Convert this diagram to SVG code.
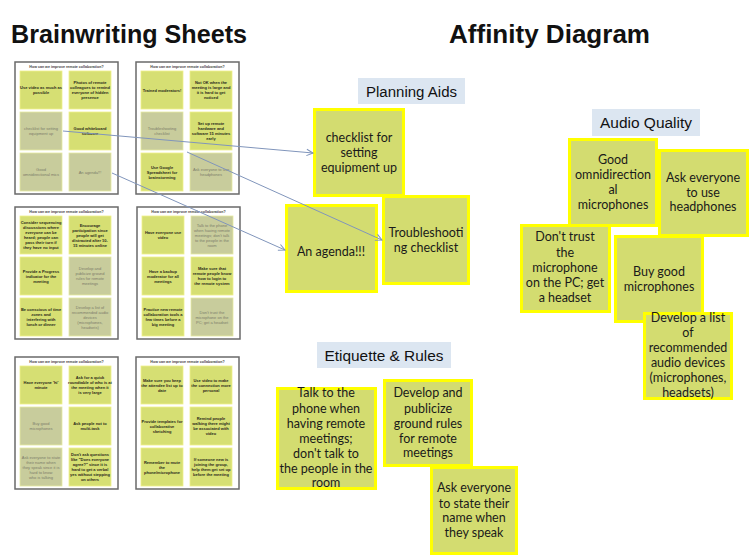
<svg xmlns="http://www.w3.org/2000/svg" width="750" height="560" viewBox="0 0 750 560">
<style>
.title{font-family:"Liberation Sans",Arial,sans-serif;font-weight:bold;font-size:26px;fill:#111}
.sheet{fill:#fff;stroke:#6a6a6a;stroke-width:1.5}
.sy{fill:#d6df73;stroke:#f0f08a;stroke-width:0.8}
.sg{fill:#c8cc9c;stroke:#e6eaa0;stroke-width:0.8}
.sh{font-family:"Liberation Sans",Arial,sans-serif;font-size:3.6px;font-weight:bold;fill:#444;text-anchor:middle}
.ty{font-family:"Liberation Sans",Arial,sans-serif;font-size:4px;font-weight:bold;fill:#2a2a1a;text-anchor:middle}
.tg{font-family:"Liberation Sans",Arial,sans-serif;font-size:4px;fill:#7c7c6a;text-anchor:middle}
.note{fill:#d3dc70;stroke:#ffff00;stroke-width:3}
.nt{font-family:Lato,"Open Sans",sans-serif;font-size:12.5px;fill:#1a1a1a;text-anchor:middle}
.lbl{fill:#dce6f1}
.lt{font-family:"Liberation Sans",Arial,sans-serif;font-size:15.5px;fill:#111;text-anchor:middle}
.conn{fill:none;stroke:#8095bb;stroke-width:1}
</style>
<defs>
<marker id="arr" viewBox="0 0 10 10" refX="9" refY="5" markerWidth="8" markerHeight="8" orient="auto" markerUnits="userSpaceOnUse">
<path d="M1,1 L9,5 L1,9" fill="none" stroke="#8095bb" stroke-width="1.3"/>
</marker>
</defs>
<rect width="750" height="560" fill="#fff"/>

<text class="title" x="11" y="43" textLength="236" lengthAdjust="spacingAndGlyphs">Brainwriting Sheets</text>
<text class="title" x="449" y="43" textLength="201" lengthAdjust="spacingAndGlyphs">Affinity Diagram</text>

<!-- Sheet 1 -->
<g id="sheet1" transform="translate(15,62)">
<rect class="sheet" x="0" y="0" width="103" height="132"/>
<text class="sh" x="51.5" y="6">How can we improve remote collaboration?</text>
<rect class="sy" x="5" y="9" width="42" height="38"/>
<rect class="sy" x="54" y="9" width="42" height="38"/>
<rect class="sg" x="5" y="50" width="42" height="38"/>
<rect class="sy" x="54" y="50" width="42" height="38"/>
<rect class="sg" x="5" y="91" width="42" height="38"/>
<rect class="sg" x="54" y="91" width="42" height="38"/>
<text class="ty" y="27"><tspan x="26">Use video as much as</tspan><tspan x="26" dy="5">possible</tspan></text>
<text class="ty" y="22"><tspan x="75">Photos of remote</tspan><tspan x="75" dy="5">colleagues to remind</tspan><tspan x="75" dy="5">everyone of hidden</tspan><tspan x="75" dy="5">presence</tspan></text>
<text class="tg" y="68"><tspan x="26">checklist for setting</tspan><tspan x="26" dy="5">equipment up</tspan></text>
<text class="ty" y="68"><tspan x="75">Good whiteboard</tspan><tspan x="75" dy="5">software</tspan></text>
<text class="tg" y="109"><tspan x="26">Good</tspan><tspan x="26" dy="5">omnidirectional mics</tspan></text>
<text class="tg" y="111.5"><tspan x="75">An agenda!!!</tspan></text>
</g>

<!-- Sheet 2 -->
<g id="sheet2" transform="translate(136,62)">
<rect class="sheet" x="0" y="0" width="103" height="132"/>
<text class="sh" x="51.5" y="6">How can we improve remote collaboration?</text>
<rect class="sy" x="5" y="9" width="42" height="38"/>
<rect class="sy" x="54" y="9" width="42" height="38"/>
<rect class="sg" x="5" y="50" width="42" height="38"/>
<rect class="sy" x="54" y="50" width="42" height="38"/>
<rect class="sy" x="5" y="91" width="42" height="38"/>
<rect class="sg" x="54" y="91" width="42" height="38"/>
<text class="ty" y="29.5"><tspan x="26">Trained moderators!</tspan></text>
<text class="ty" y="22"><tspan x="75">Not OK when the</tspan><tspan x="75" dy="5">meeting is large and</tspan><tspan x="75" dy="5">it is hard to get</tspan><tspan x="75" dy="5">noticed</tspan></text>
<text class="tg" y="68"><tspan x="26">Troubleshooting</tspan><tspan x="26" dy="5">checklist</tspan></text>
<text class="ty" y="63"><tspan x="75">Set up remote</tspan><tspan x="75" dy="5">hardware and</tspan><tspan x="75" dy="5">software 15 minutes</tspan><tspan x="75" dy="5">early</tspan></text>
<text class="ty" y="106.5"><tspan x="26">Use Google</tspan><tspan x="26" dy="5">Spreadsheet for</tspan><tspan x="26" dy="5">brainstorming</tspan></text>
<text class="tg" y="109"><tspan x="75">Ask everyone to use</tspan><tspan x="75" dy="5">headphones</tspan></text>
</g>

<!-- Sheet 3 -->
<g id="sheet3" transform="translate(15,207)">
<rect class="sheet" x="0" y="0" width="103" height="132"/>
<text class="sh" x="51.5" y="6">How can we improve remote collaboration?</text>
<rect class="sy" x="5" y="9" width="42" height="38"/>
<rect class="sy" x="54" y="9" width="42" height="38"/>
<rect class="sy" x="5" y="50" width="42" height="38"/>
<rect class="sg" x="54" y="50" width="42" height="38"/>
<rect class="sy" x="5" y="91" width="42" height="38"/>
<rect class="sg" x="54" y="91" width="42" height="38"/>
<text class="ty" y="17"><tspan x="26">Consider sequencing</tspan><tspan x="26" dy="5">discussions where</tspan><tspan x="26" dy="5">everyone can be</tspan><tspan x="26" dy="5">heard; people can</tspan><tspan x="26" dy="5">pass their turn if</tspan><tspan x="26" dy="5">they have no input</tspan></text>
<text class="ty" y="19.5"><tspan x="75">Encourage</tspan><tspan x="75" dy="5">participation since</tspan><tspan x="75" dy="5">people will get</tspan><tspan x="75" dy="5">distracted after 10-</tspan><tspan x="75" dy="5">15 minutes online</tspan></text>
<text class="ty" y="65.5"><tspan x="26">Provide a Progress</tspan><tspan x="26" dy="5">indicator for the</tspan><tspan x="26" dy="5">meeting</tspan></text>
<text class="tg" y="63"><tspan x="75">Develop and</tspan><tspan x="75" dy="5">publicize ground</tspan><tspan x="75" dy="5">rules for remote</tspan><tspan x="75" dy="5">meetings</tspan></text>
<text class="ty" y="104"><tspan x="26">Be conscious of time</tspan><tspan x="26" dy="5">zones and</tspan><tspan x="26" dy="5">interfering with</tspan><tspan x="26" dy="5">lunch or dinner</tspan></text>
<text class="tg" y="101.5"><tspan x="75">Develop a list of</tspan><tspan x="75" dy="5">recommended audio</tspan><tspan x="75" dy="5">devices</tspan><tspan x="75" dy="5">(microphones,</tspan><tspan x="75" dy="5">headsets)</tspan></text>
</g>

<!-- Sheet 4 -->
<g id="sheet4" transform="translate(137,207)">
<rect class="sheet" x="0" y="0" width="103" height="132"/>
<text class="sh" x="51.5" y="6">How can we improve remote collaboration?</text>
<rect class="sy" x="5" y="9" width="42" height="38"/>
<rect class="sg" x="54" y="9" width="42" height="38"/>
<rect class="sy" x="5" y="50" width="42" height="38"/>
<rect class="sy" x="54" y="50" width="42" height="38"/>
<rect class="sy" x="5" y="91" width="42" height="38"/>
<rect class="sg" x="54" y="91" width="42" height="38"/>
<text class="ty" y="27"><tspan x="26">Have everyone use</tspan><tspan x="26" dy="5">video</tspan></text>
<text class="tg" y="19.5"><tspan x="75">Talk to the phone</tspan><tspan x="75" dy="5">when having remote</tspan><tspan x="75" dy="5">meetings; don't talk</tspan><tspan x="75" dy="5">to the people in the</tspan><tspan x="75" dy="5">room</tspan></text>
<text class="ty" y="65.5"><tspan x="26">Have a backup</tspan><tspan x="26" dy="5">moderator for all</tspan><tspan x="26" dy="5">meetings</tspan></text>
<text class="ty" y="63"><tspan x="75">Make sure that</tspan><tspan x="75" dy="5">remote people know</tspan><tspan x="75" dy="5">how to login to</tspan><tspan x="75" dy="5">the remote system</tspan></text>
<text class="ty" y="104"><tspan x="26">Practice new remote</tspan><tspan x="26" dy="5">collaboration tools a</tspan><tspan x="26" dy="5">few times before a</tspan><tspan x="26" dy="5">big meeting</tspan></text>
<text class="tg" y="106.5"><tspan x="75">Don't trust the</tspan><tspan x="75" dy="5">microphone on the</tspan><tspan x="75" dy="5">PC; get a headset</tspan></text>
</g>

<!-- Sheet 5 -->
<g id="sheet5" transform="translate(15,357)">
<rect class="sheet" x="0" y="0" width="103" height="132"/>
<text class="sh" x="51.5" y="6">How can we improve remote collaboration?</text>
<rect class="sy" x="5" y="9" width="42" height="38"/>
<rect class="sy" x="54" y="9" width="42" height="38"/>
<rect class="sg" x="5" y="50" width="42" height="38"/>
<rect class="sy" x="54" y="50" width="42" height="38"/>
<rect class="sg" x="5" y="91" width="42" height="38"/>
<rect class="sy" x="54" y="91" width="42" height="38"/>
<text class="ty" y="27"><tspan x="26">Have everyone 'hi'</tspan><tspan x="26" dy="5">minute</tspan></text>
<text class="ty" y="22"><tspan x="75">Ask for a quick</tspan><tspan x="75" dy="5">roundtable of who is at</tspan><tspan x="75" dy="5">the meeting when it</tspan><tspan x="75" dy="5">is very large</tspan></text>
<text class="tg" y="68"><tspan x="26">Buy good</tspan><tspan x="26" dy="5">microphones</tspan></text>
<text class="ty" y="68"><tspan x="75">Ask people not to</tspan><tspan x="75" dy="5">multi-task</tspan></text>
<text class="tg" y="101.5"><tspan x="26">Ask everyone to state</tspan><tspan x="26" dy="5">their name when</tspan><tspan x="26" dy="5">they speak since it is</tspan><tspan x="26" dy="5">hard to know</tspan><tspan x="26" dy="5">who is talking</tspan></text>
<text class="ty" y="99"><tspan x="75">Don't ask questions</tspan><tspan x="75" dy="5">like "Does everyone</tspan><tspan x="75" dy="5">agree?" since it is</tspan><tspan x="75" dy="5">hard to get a verbal</tspan><tspan x="75" dy="5">yes without stepping</tspan><tspan x="75" dy="5">on others</tspan></text>
</g>

<!-- Sheet 6 -->
<g id="sheet6" transform="translate(136,357)">
<rect class="sheet" x="0" y="0" width="103" height="132"/>
<text class="sh" x="51.5" y="6">How can we improve remote collaboration?</text>
<rect class="sy" x="5" y="9" width="42" height="38"/>
<rect class="sy" x="54" y="9" width="42" height="38"/>
<rect class="sy" x="5" y="50" width="42" height="38"/>
<rect class="sy" x="54" y="50" width="42" height="38"/>
<rect class="sy" x="5" y="91" width="42" height="38"/>
<rect class="sy" x="54" y="91" width="42" height="38"/>
<text class="ty" y="24.5"><tspan x="26">Make sure you keep</tspan><tspan x="26" dy="5">the attendee list up to</tspan><tspan x="26" dy="5">date</tspan></text>
<text class="ty" y="24.5"><tspan x="75">Use video to make</tspan><tspan x="75" dy="5">the connection more</tspan><tspan x="75" dy="5">personal</tspan></text>
<text class="ty" y="65.5"><tspan x="26">Provide templates for</tspan><tspan x="26" dy="5">collaborative</tspan><tspan x="26" dy="5">sketching</tspan></text>
<text class="ty" y="63"><tspan x="75">Remind people</tspan><tspan x="75" dy="5">walking there might</tspan><tspan x="75" dy="5">be associated with</tspan><tspan x="75" dy="5">video</tspan></text>
<text class="ty" y="106.5"><tspan x="26">Remember to mute</tspan><tspan x="26" dy="5">the</tspan><tspan x="26" dy="5">phone/microphone</tspan></text>
<text class="ty" y="104"><tspan x="75">If someone new is</tspan><tspan x="75" dy="5">joining the group,</tspan><tspan x="75" dy="5">help them get set up</tspan><tspan x="75" dy="5">before the meeting</tspan></text>
</g>

<!-- Labels -->
<g id="lbl-planning">
<rect class="lbl" x="358" y="78" width="107" height="26"/>
<text class="lt" x="411.5" y="97" textLength="91" lengthAdjust="spacingAndGlyphs">Planning Aids</text>
</g>
<g id="lbl-audio">
<rect class="lbl" x="592" y="109" width="108" height="27"/>
<text class="lt" x="646" y="128" textLength="92" lengthAdjust="spacingAndGlyphs">Audio Quality</text>
</g>
<g id="lbl-etiquette">
<rect class="lbl" x="317" y="342" width="134" height="26"/>
<text class="lt" x="384" y="361" textLength="119" lengthAdjust="spacingAndGlyphs">Etiquette &amp; Rules</text>
</g>

<!-- Planning Aids notes -->
<g id="n-checklist">
<rect class="note" x="314.5" y="109.5" width="89" height="86"/>
<text class="nt" y="142"><tspan x="359">checklist for</tspan><tspan x="359" dy="15">setting</tspan><tspan x="359" dy="15">equipment up</tspan></text>
</g>
<g id="n-agenda">
<rect class="note" x="286.5" y="205.5" width="90" height="86"/>
<text class="nt" x="331" y="256">An agenda!!!</text>
</g>
<g id="n-trouble">
<rect class="note" x="383.5" y="196.5" width="85" height="87"/>
<text class="nt" y="237"><tspan x="426">Troubleshooti</tspan><tspan x="426" dy="15">ng checklist</tspan></text>
</g>

<!-- Audio Quality notes -->
<g id="n-omni">
<rect class="note" x="569.5" y="139.5" width="87" height="86"/>
<text class="nt" y="164"><tspan x="613">Good</tspan><tspan x="613" dy="15">omnidirection</tspan><tspan x="613" dy="15">al</tspan><tspan x="613" dy="15">microphones</tspan></text>
</g>
<g id="n-headphones">
<rect class="note" x="659.5" y="150.5" width="88" height="85"/>
<text class="nt" y="182"><tspan x="703">Ask everyone</tspan><tspan x="703" dy="15">to use</tspan><tspan x="703" dy="14">headphones</tspan></text>
</g>
<g id="n-donttrust">
<rect class="note" x="521.5" y="225.5" width="88" height="86"/>
<text class="nt" y="241"><tspan x="565">Don't trust</tspan><tspan x="565" dy="15.5">the</tspan><tspan x="565" dy="15">microphone</tspan><tspan x="565" dy="15">on the PC; get</tspan><tspan x="565" dy="15">a headset</tspan></text>
</g>
<g id="n-buygood">
<rect class="note" x="615.5" y="236.5" width="87" height="85"/>
<text class="nt" y="276"><tspan x="659">Buy good</tspan><tspan x="659" dy="15">microphones</tspan></text>
</g>
<g id="n-devlist">
<rect class="note" x="644.5" y="313.5" width="87" height="85"/>
<text class="nt" y="322"><tspan x="688">Develop a list</tspan><tspan x="688" dy="15">of</tspan><tspan x="688" dy="15">recommended</tspan><tspan x="688" dy="15">audio devices</tspan><tspan x="688" dy="15">(microphones,</tspan><tspan x="688" dy="15">headsets)</tspan></text>
</g>

<!-- Etiquette notes -->
<g id="n-talk">
<rect class="note" x="277.5" y="388.5" width="98" height="100"/>
<text class="nt" y="397"><tspan x="326">Talk to the</tspan><tspan x="326" dy="16">phone when</tspan><tspan x="326" dy="15">having remote</tspan><tspan x="326" dy="15">meetings;</tspan><tspan x="326" dy="15">don't talk to</tspan><tspan x="326" dy="15">the people in the</tspan><tspan x="326" dy="14">room</tspan></text>
</g>
<g id="n-ground">
<rect class="note" x="384.5" y="380.5" width="87" height="85"/>
<text class="nt" y="397"><tspan x="428">Develop and</tspan><tspan x="428" dy="16">publicize</tspan><tspan x="428" dy="15">ground rules</tspan><tspan x="428" dy="15">for remote</tspan><tspan x="428" dy="14">meetings</tspan></text>
</g>
<g id="n-statename">
<rect class="note" x="431.5" y="467.5" width="85" height="86"/>
<text class="nt" y="492"><tspan x="474">Ask everyone</tspan><tspan x="474" dy="16">to state their</tspan><tspan x="474" dy="14">name when</tspan><tspan x="474" dy="15">they speak</tspan></text>
</g>

<!-- Connectors -->
<g id="connectors">
<line class="conn" x1="63" y1="131" x2="313" y2="153" marker-end="url(#arr)"/>
<line class="conn" x1="187" y1="152" x2="382" y2="240" marker-end="url(#arr)"/>
<line class="conn" x1="112" y1="173" x2="285" y2="250" marker-end="url(#arr)"/>
</g>
</svg>
